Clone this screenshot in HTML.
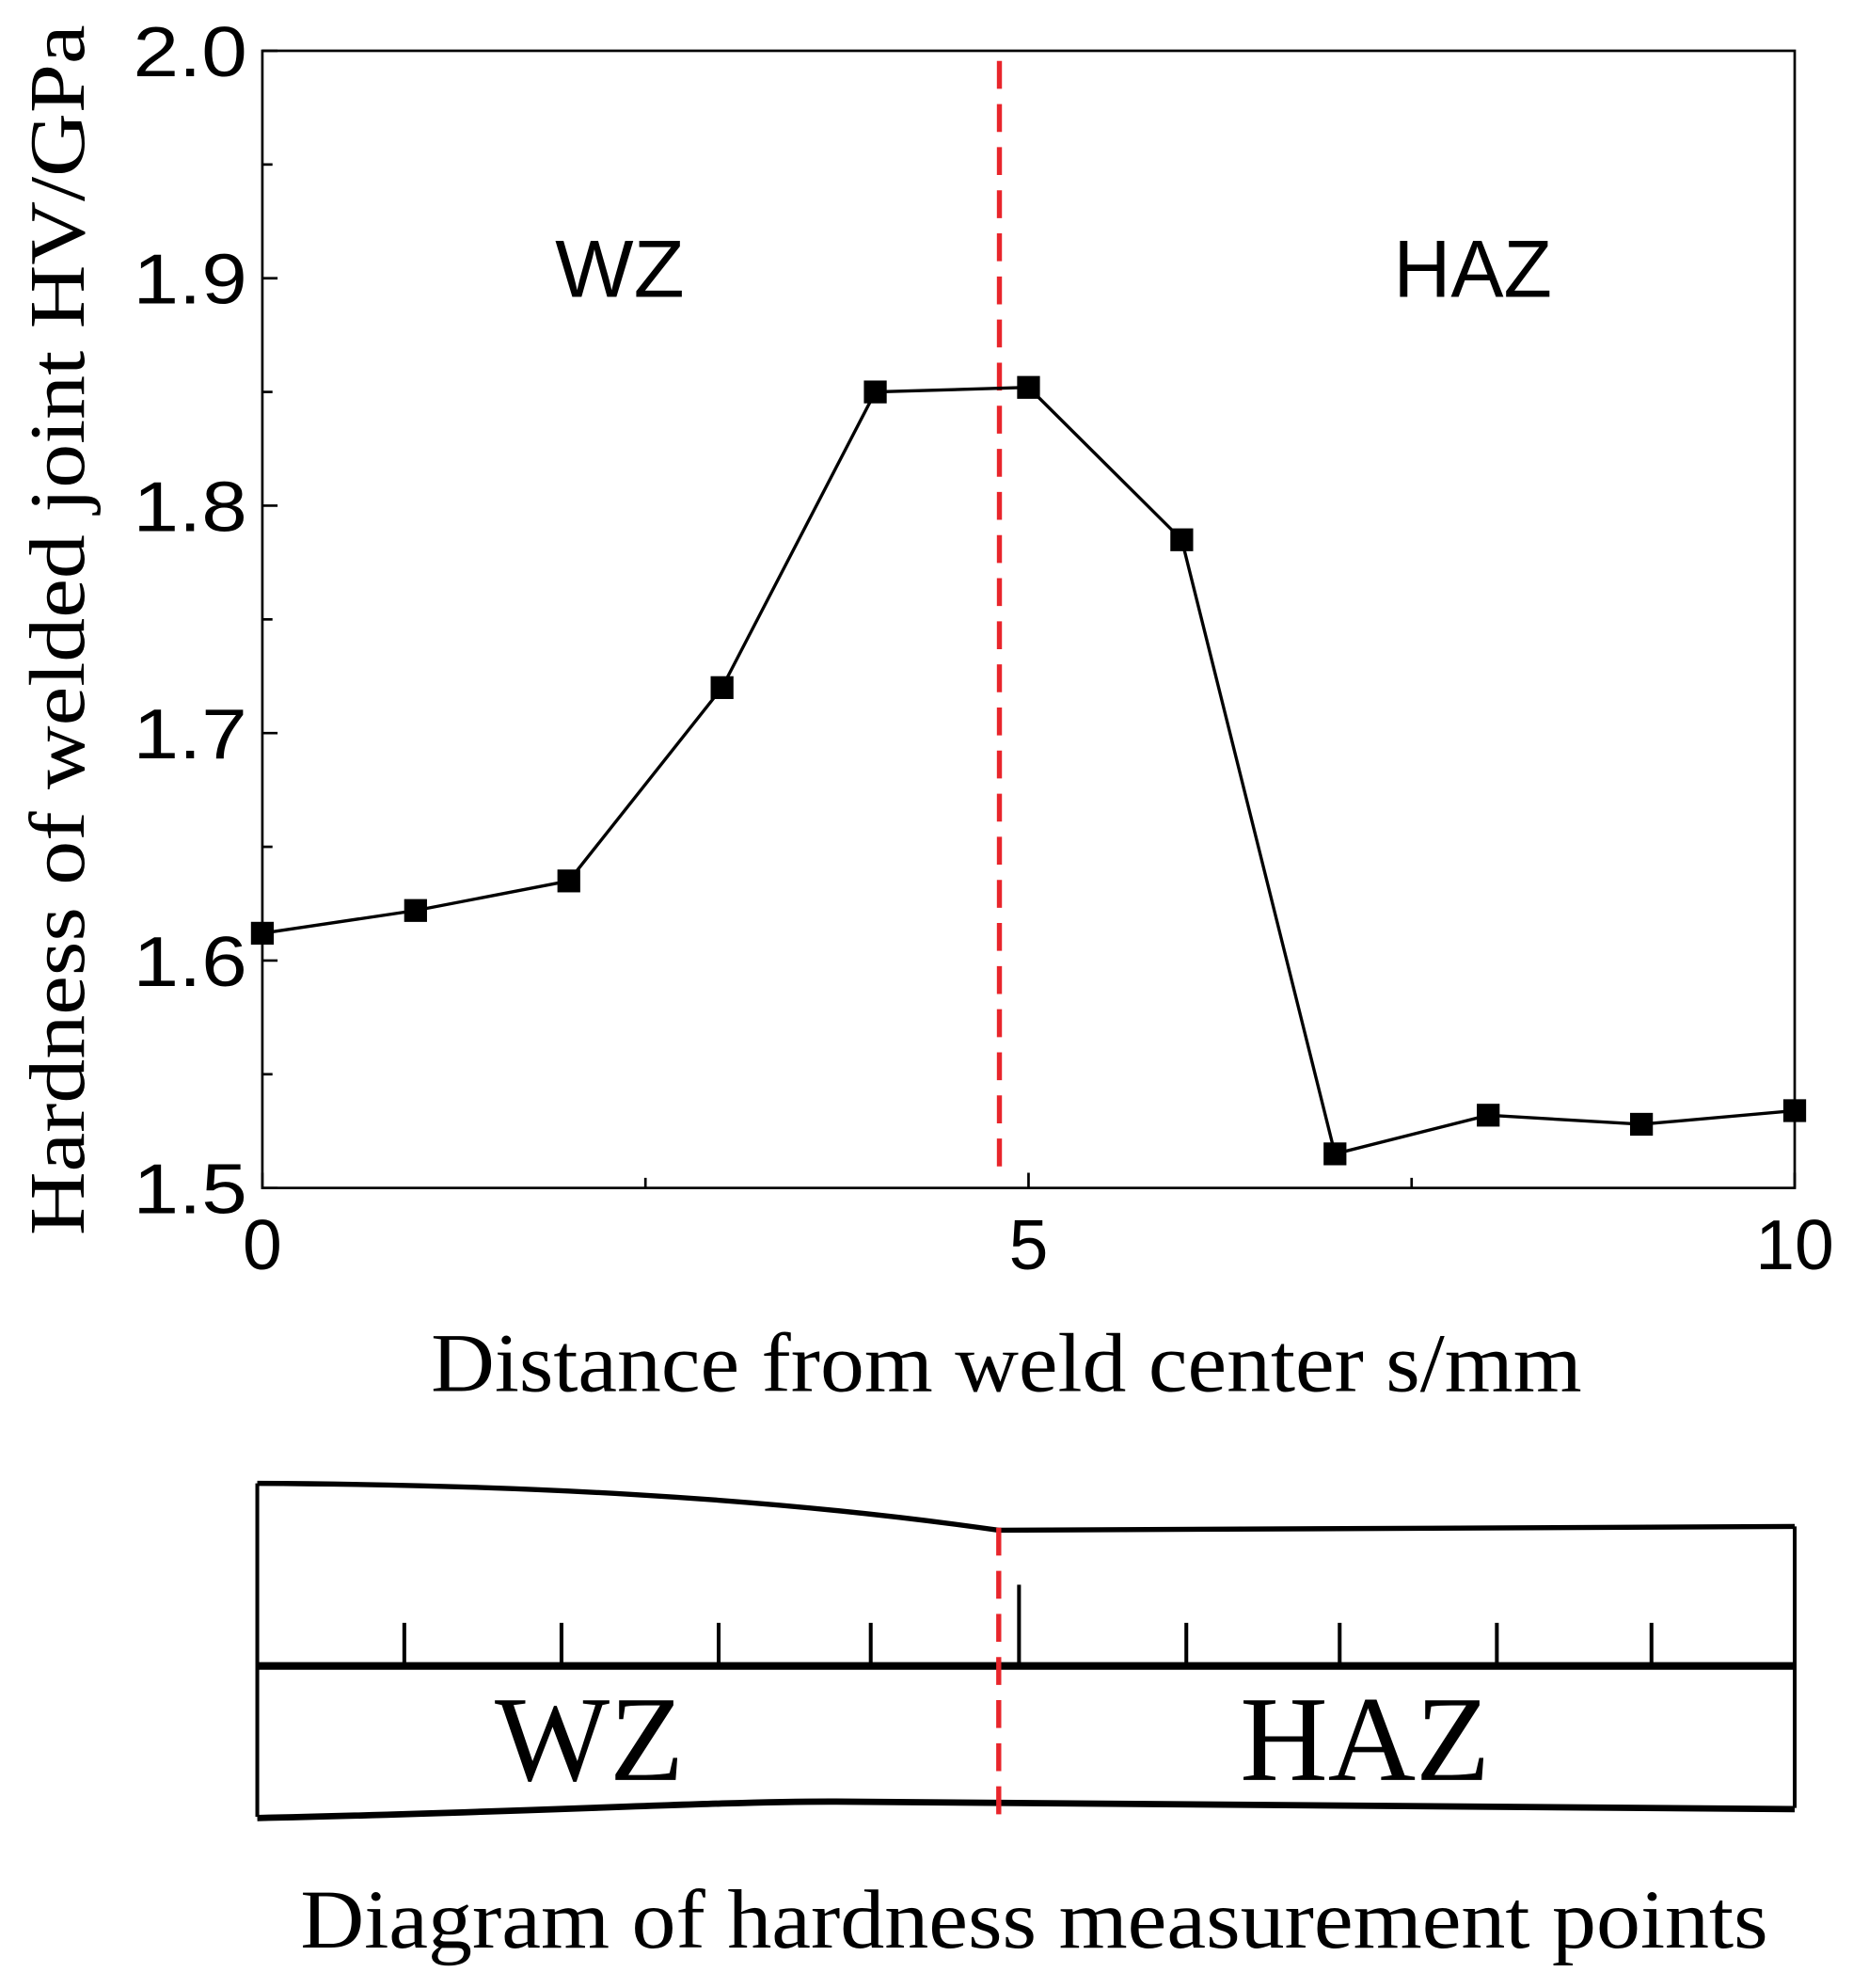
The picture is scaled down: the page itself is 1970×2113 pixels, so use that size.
<!DOCTYPE html>
<html><head><meta charset="utf-8"><style>html,body{margin:0;padding:0;background:#fff}svg{display:block}</style></head>
<body>
<svg id="c" width="1970" height="2113" viewBox="0 0 1462 1568" xmlns="http://www.w3.org/2000/svg">
<rect width="1462" height="1568" fill="#fff"/>
<g id="plot"></g>
<g fill="none" stroke="#000">
<path d="M203,1170 C400,1171 600,1180 788,1207 L1416,1204" stroke-width="4"/>
<path d="M203,1170 L203,1433 M1416,1204 L1416,1426" stroke-width="3"/>
<path d="M203,1314 L1416,1314" stroke-width="6"/>
<path d="M203,1434 C400,1430 560,1421 655,1421 L1416,1427" stroke-width="5"/>
<g stroke-width="3"><path d="M319,1280V1314M443,1280V1314M567,1280V1314M687,1280V1314M804,1250V1314M936,1280V1314M1057,1280V1314M1181,1280V1314M1303,1280V1314"/></g>
<path d="M788,1205 L788,1434" stroke="#e8252b" stroke-width="4" stroke-dasharray="22,12"/>
</g>
<text x="465" y="1404" font-family="Liberation Serif, serif" font-size="96" text-anchor="middle">WZ</text>
<text x="1077" y="1404" font-family="Liberation Serif, serif" font-size="96" text-anchor="middle">HAZ</text>
<text x="816" y="1536" font-family="Liberation Serif, serif" font-size="66" text-anchor="middle" textLength="1158" lengthAdjust="spacingAndGlyphs">Diagram of hardness measurement points</text>
</svg>
<script>
const xValues=[0,1,2,3,4,5,6,7,8,9,10];
const hardness=[1.612,1.622,1.635,1.72,1.85,1.852,1.785,1.515,1.532,1.528,1.534];
const xTicks=[0,5,10];
const yTicks=[1.5,1.6,1.7,1.8,1.9,2.0];
const boundaryX=[4.81];
const NS="http://www.w3.org/2000/svg";
const L=207,R=1416,T=40,B=937;
const sx=v=>L+(v-0)/(10-0)*(R-L);
const sy=v=>B-(v-1.5)/(2.0-1.5)*(B-T);
const g=document.getElementById('plot');
function mk(t,a){const e=document.createElementNS(NS,t);for(const k in a)e.setAttribute(k,a[k]);g.appendChild(e);return e;}
let e;
e=mk('rect',{x:L,y:T,width:R-L,height:B-T,fill:'none',stroke:'#000','stroke-width':2});


for(let i=0;i<=4;i++){const v=i*2.5;e=mk('line',{x1:sx(v),x2:sx(v),y1:B,y2:B-(i%2?8:12),stroke:'#000','stroke-width':2});

}
for(let i=0;i<=10;i++){const v=1.5+i*0.05;e=mk('line',{x1:L,x2:L+(i%2?8:12),y1:sy(v),y2:sy(v),stroke:'#000','stroke-width':2});

}
xTicks.forEach(v=>{const s=String(v);e=mk('text',{x:sx(v),y:B+64,'font-family':'Liberation Sans, sans-serif','font-size':56,'text-anchor':'middle',textLength:s.length*31,lengthAdjust:'spacingAndGlyphs'});e.textContent=s;

});
yTicks.forEach(v=>{e=mk('text',{x:L-12,y:sy(v)+20,'font-family':'Liberation Sans, sans-serif','font-size':56,'text-anchor':'end',textLength:90,lengthAdjust:'spacingAndGlyphs'});e.textContent=v.toFixed(1);

});
e=mk('text',{x:0,y:0,transform:'translate(66,497) rotate(-90)','font-family':'Liberation Serif, serif','font-size':62,'text-anchor':'middle',textLength:955,lengthAdjust:'spacingAndGlyphs'});e.textContent='Hardness of welded joint HV/GPa';


e=mk('text',{x:794,y:1097,'font-family':'Liberation Serif, serif','font-size':66,'text-anchor':'middle',textLength:908,lengthAdjust:'spacingAndGlyphs'});e.textContent='Distance from weld center s/mm';


e=mk('text',{x:489,y:234,'font-family':'Liberation Sans, sans-serif','font-size':64,'text-anchor':'middle',textLength:102,lengthAdjust:'spacingAndGlyphs'});e.textContent='WZ';


e=mk('text',{x:1162,y:234,'font-family':'Liberation Sans, sans-serif','font-size':64,'text-anchor':'middle',textLength:125,lengthAdjust:'spacingAndGlyphs'});e.textContent='HAZ';


e=mk('line',{x1:sx(boundaryX[0]),x2:sx(boundaryX[0]),y1:48,y2:932,stroke:'#e8252b','stroke-width':4,'stroke-dasharray':'22,12'});


e=mk('polyline',{points:xValues.map((x,i)=>sx(x)+','+sy(hardness[i])).join(' '),fill:'none',stroke:'#000','stroke-width':2.5});


xValues.forEach((x,i)=>{e=mk('rect',{x:sx(x)-9,y:sy(hardness[i])-9,width:18,height:18,fill:'#000'});

});
</script>
</body></html>
